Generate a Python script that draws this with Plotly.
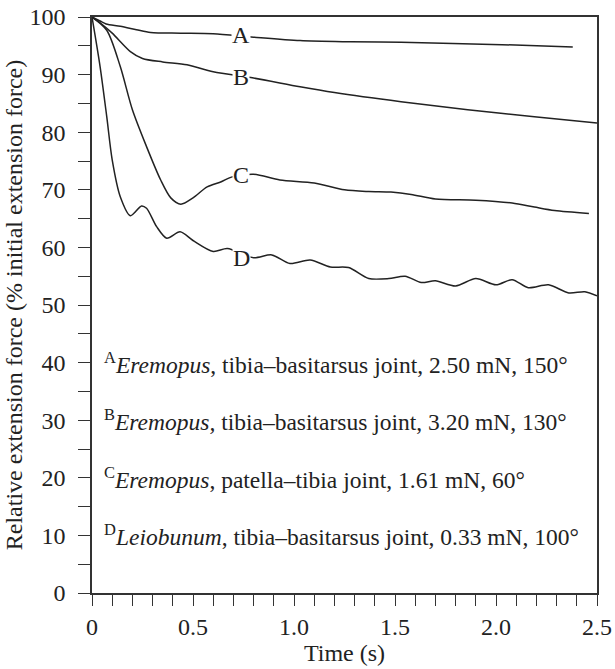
import plotly.graph_objects as go

# ---- data ----
a_x = [0, 0.04, 0.07, 0.14, 0.22, 0.29, 0.44, 0.6, 0.8, 1.03, 1.28, 1.53, 2.03, 2.38]
a_y = [100, 99.3, 98.8, 98.4, 97.8, 97.3, 97.2, 97.1, 96.5, 95.9, 95.7, 95.6, 95.2, 94.8]

b_x = [0, 0.04, 0.10, 0.19, 0.25, 0.35, 0.47, 0.60, 0.80, 1.03, 1.20, 1.53, 1.86, 2.19, 2.5]
b_y = [100, 99.0, 97.2, 94.0, 92.8, 92.2, 91.7, 90.5, 89.4, 87.9, 86.9, 85.3, 83.9, 82.7, 81.6]

c_x = [0, 0.073, 0.14, 0.20, 0.27, 0.34, 0.39, 0.44, 0.50, 0.57, 0.64, 0.69, 0.80, 0.93,
       1.10, 1.25, 1.37, 1.48, 1.58, 1.70, 1.90, 2.08, 2.19, 2.29, 2.46]
c_y = [100, 97.7, 91.4, 83.9, 77.5, 71.7, 68.6, 67.5, 68.6, 70.5, 71.4, 72.2, 72.7, 71.7,
       71.2, 70.0, 69.7, 69.6, 69.2, 68.4, 68.2, 67.7, 67.0, 66.4, 65.9]

d_x = [0, 0.04, 0.073, 0.10, 0.14, 0.19, 0.245, 0.27, 0.32, 0.37, 0.436, 0.50, 0.60, 0.67,
       0.80, 0.89, 0.98, 1.08, 1.18, 1.27, 1.37, 1.47, 1.55, 1.63, 1.70, 1.80, 1.90, 2.0,
       2.08, 2.16, 2.26, 2.36, 2.44, 2.5]
d_y = [100, 91.4, 82.7, 75.2, 68.8, 65.5, 67.2, 66.8, 63.6, 61.6, 62.7, 61.2, 59.3, 59.8,
       58.2, 58.7, 57.2, 57.8, 56.6, 56.5, 54.6, 54.6, 55.0, 53.9, 54.2, 53.3, 54.6, 53.5,
       54.4, 53.0, 53.5, 52.1, 52.3, 51.6]

curve_labels = ["A", "B", "C", "D"]
label_x = [0.74, 0.74, 0.74, 0.74]
label_y = [96.8, 89.6, 72.5, 58.2]

legend_letters = ["A", "B", "C", "D"]
legend_genus = ["Eremopus", "Eremopus,", "Eremopus", "Leiobunum"]
legend_rest = [", tibia–basitarsus joint, 2.50 mN, 150°",
               " tibia–basitarsus joint, 3.20 mN, 130°",
               ", patella–tibia joint, 1.61 mN, 60°",
               ", tibia–basitarsus joint, 0.33 mN, 100°"]
legend_y = [40, 30, 20, 10]

y_tickvals = [0, 10, 20, 30, 40, 50, 60, 70, 80, 90, 100]
x_tickvals = [0, 0.5, 1.0, 1.5, 2.0, 2.5]
x_ticktext = ["0", "0.5", "1.0", "1.5", "2.0", "2.5"]

FONT = "Liberation Serif"
INK = "#222222"
FS = 24

fig = go.Figure()
for xs, ys in [(a_x, a_y), (b_x, b_y), (c_x, c_y), (d_x, d_y)]:
    fig.add_trace(go.Scatter(x=xs, y=ys, mode="lines",
                             line=dict(color=INK, width=1.5, shape="spline", smoothing=0.8),
                             showlegend=False, hoverinfo="skip"))

for t, lx, ly in zip(curve_labels, label_x, label_y):
    fig.add_annotation(x=lx, y=ly, text=t, showarrow=False, bgcolor="white",
                       font=dict(family=FONT, size=FS, color=INK), borderpad=0)

for letter, genus, rest, ly in zip(legend_letters, legend_genus, legend_rest, legend_y):
    fig.add_annotation(x=0.05, y=ly, xanchor="left", yanchor="middle", showarrow=False,
                       text=f"<sup>{letter}</sup><i>{genus}</i>{rest}",
                       font=dict(family=FONT, size=23.5, color=INK))

fig.update_layout(
    width=615, height=669,
    margin=dict(l=92, r=18, t=17, b=76),
    paper_bgcolor="white", plot_bgcolor="white",
    font=dict(family=FONT, size=FS, color=INK),
)
fig.update_xaxes(range=[0, 2.5], tickvals=x_tickvals, ticktext=x_ticktext,
                 automargin=False,
                 showgrid=False, zeroline=False, showline=True, mirror=True,
                 linecolor="#333333", linewidth=1.5, ticks="outside", ticklen=11,
                 tickwidth=1.2, tickcolor="#333333", ticklabelstandoff=0,
                 minor=dict(dtick=0.1, ticks="outside", ticklen=11, tickwidth=1.2,
                            tickcolor="#333333", showgrid=False),
                 title=dict(text="Time (s)", standoff=6, font=dict(family=FONT, size=FS)),
                 tickfont=dict(family=FONT, size=FS))
fig.update_yaxes(range=[0, 100], tickvals=y_tickvals,
                 automargin=False,
                 showgrid=False, zeroline=False, showline=True, mirror=True,
                 linecolor="#333333", linewidth=1.5, ticks="outside", ticklen=12,
                 tickwidth=1.2, tickcolor="#333333", ticklabelstandoff=8,
                 minor=dict(dtick=5, ticks="outside", ticklen=12, tickwidth=1.2,
                            tickcolor="#333333", showgrid=False),
                 title=dict(text="Relative extension force (% initial extension force)",
                            standoff=0, font=dict(family=FONT, size=FS)),
                 tickfont=dict(family=FONT, size=FS))

fig.write_html("out.html", config={"displayModeBar": False},
               post_script="document.body.style.margin='0';")
